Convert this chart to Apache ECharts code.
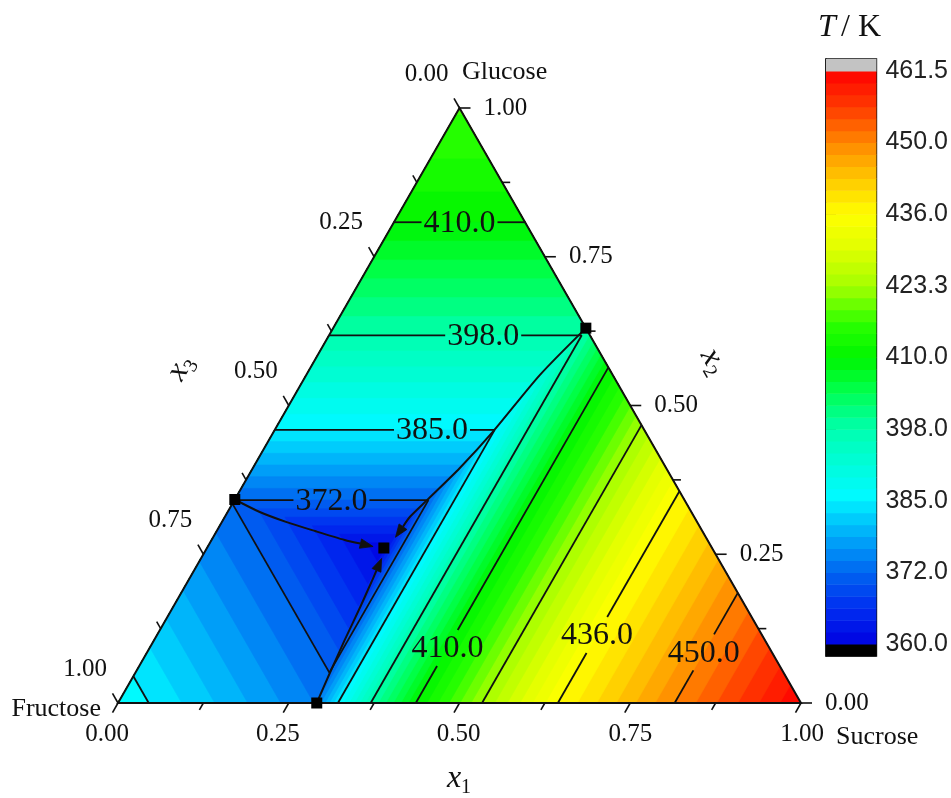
<!DOCTYPE html>
<html lang="en">
<head>
<meta charset="utf-8">
<title>Fructose – Glucose – Sucrose liquidus surface</title>
<script src="https://cdn.jsdelivr.net/npm/echarts@6.0.0/dist/echarts.min.js"></script>
<style>
  html, body { margin: 0; padding: 0; background: #ffffff; }
  #chart { width: 951px; height: 798px; }
</style>
</head>
<body>
<div id="chart"></div>
<script>
// ---------------------------------------------------------------------------
// Liquidus temperature T / K of each primary crystallisation field, given
// against the mole fraction of the sugar that crystallises in that field
// (x1 = sucrose, x2 = glucose, x3 = fructose).
// ---------------------------------------------------------------------------
const sucroseLiquidus = [
  [0.240, 353.0], [0.258, 360.8], [0.284, 372.0], [0.322, 385.0], [0.370, 398.0],
  [0.436, 410.0], [0.533, 423.3], [0.644, 436.0], [0.815, 450.0], [1.000, 461.5]
];
const glucoseLiquidus = [
  [0.220, 354.0], [0.2605, 360.8], [0.341, 372.0], [0.459, 385.0], [0.618, 398.0],
  [0.808, 410.0], [0.900, 414.0], [1.000, 417.0]
];
const fructoseLiquidus = [
  [0.420, 355.0], [0.4815, 360.8], [0.665, 372.0], [0.955, 385.0], [1.000, 386.7]
];

// Eutectic compositions [x1, x2]: three binary ones and the ternary one
const eutecticPoints = [[0.000, 0.342], [0.370, 0.630], [0.291, 0.000], [0.259, 0.2605]];

// Eutectic valleys [x1, x2], each running towards the ternary eutectic
const valleyGlucoseFructose = [
  [0.000, 0.342], [0.047, 0.321], [0.095, 0.304], [0.144, 0.289], [0.195, 0.274], [0.242, 0.263]
];
const valleyFructoseSucrose = [
  [0.291, 0.000], [0.285, 0.050], [0.279, 0.106], [0.274, 0.161], [0.269, 0.207], [0.2645, 0.243]
];
const valleyGlucoseSucrose = [
  [0.370, 0.630], [0.342, 0.551], [0.321, 0.456], [0.303, 0.395], [0.282, 0.341], [0.271, 0.313], [0.267, 0.2785]
];

// Colour scale tick values (K) and axis tick labels
const colorbarTicks = [360.0, 372.0, 385.0, 398.0, 410.0, 423.3, 436.0, 450.0, 461.5];
const axisTickValues = [0, 0.25, 0.5, 0.75, 1];
const axisTickLabels = ['0.00', '0.25', '0.50', '0.75', '1.00'];
const vertexNames = ['Fructose', 'Sucrose', 'Glucose'];

// ---------------------------------------------------------------------------
// Styling
// ---------------------------------------------------------------------------
const SERIF = "'Times New Roman', 'Liberation Serif', serif";
const SANS = "Arial, 'Liberation Sans', sans-serif";
const INK = '#111111';
const bandsPerTick = 6;
const paletteStops = [
  [360.0, [0, 0, 225]],   [366.0, [0, 45, 240]],   [372.0, [0, 100, 240]],
  [379.0, [0, 175, 250]], [386.0, [0, 250, 255]],  [398.0, [0, 255, 175]],
  [405.0, [0, 255, 70]],  [410.0, [0, 245, 0]],    [416.0, [40, 255, 0]],
  [423.3, [165, 255, 0]], [430.0, [225, 255, 0]],  [436.0, [255, 255, 0]],
  [443.0, [255, 200, 0]], [450.0, [255, 135, 0]],  [456.0, [255, 55, 0]],
  [461.5, [255, 0, 0]]
];
// Isotherm labels: which line carries a label and where along it (0..1)
const isothermLabels = [
  { level: 410.0, field: 'glucose', at: 0.50 },
  { level: 398.0, field: 'glucose', at: 0.61 },
  { level: 385.0, field: 'glucose', at: 0.715 },
  { level: 372.0, field: 'glucose', at: 0.50 },
  { level: 410.0, field: 'sucrose', at: 0.164 },
  { level: 436.0, field: 'sucrose', at: 0.321 },
  { level: 450.0, field: 'sucrose', at: 0.46 }
];
const bottomLabelShift = [-11, -11, -1, 0, 1];

// ---------------------------------------------------------------------------
// Helpers
// ---------------------------------------------------------------------------
const SQ3_2 = Math.sqrt(3) / 2;
// (x1, x2) composition -> plane coordinates of the equilateral triangle
function toXY(x1, x2) { return [x1 + x2 / 2, x2 * SQ3_2]; }

// Mole fraction at which a liquidus table reaches temperature T
function compositionAt(table, T) {
  const n = table.length;
  if (T >= table[n - 1][1]) return 2;
  for (let i = 1; i < n; i++) {
    if (T <= table[i][1]) {
      const [xa, ta] = table[i - 1], [xb, tb] = table[i];
      return xa + (T - ta) * (xb - xa) / (tb - ta);
    }
  }
  return 2;
}

// Sutherland–Hodgman: keep the part of poly where f(p) <= 0
function clipHalf(poly, f) {
  const out = [];
  for (let i = 0; i < poly.length; i++) {
    const p = poly[i], q = poly[(i + 1) % poly.length];
    const fp = f(p), fq = f(q);
    if (fp <= 0) out.push(p);
    if ((fp < 0 && fq > 0) || (fp > 0 && fq < 0)) {
      const t = fp / (fp - fq);
      out.push([p[0] + t * (q[0] - p[0]), p[1] + t * (q[1] - p[1])]);
    }
  }
  return out;
}

// Composition polygon where the liquidus lies below L
function belowRegion(L) {
  const a = compositionAt(sucroseLiquidus, L);
  const b = compositionAt(glucoseLiquidus, L);
  const c = compositionAt(fructoseLiquidus, L);
  let poly = [[0, 0], [1, 0], [0, 1]];
  poly = clipHalf(poly, p => p[0] - a);
  poly = clipHalf(poly, p => p[1] - b);
  poly = clipHalf(poly, p => (1 - p[0] - p[1]) - c);
  return poly;
}

// Isotherm pieces for level L inside each primary field
function isothermSegments(L) {
  const a = compositionAt(sucroseLiquidus, L);
  const b = compositionAt(glucoseLiquidus, L);
  const c = compositionAt(fructoseLiquidus, L);
  const segs = [];
  if (b < 1) {
    const lo = Math.max(0, 1 - b - c), hi = Math.min(a, 1 - b);
    if (hi > lo) segs.push({ field: 'glucose', p: [[lo, b], [hi, b]] });
  }
  if (a < 1) {
    const lo = Math.max(0, 1 - a - c), hi = Math.min(b, 1 - a);
    if (hi > lo) segs.push({ field: 'sucrose', p: [[a, lo], [a, hi]] });
  }
  if (c < 1) {
    const lo = Math.max(0, 1 - c - b), hi = Math.min(a, 1 - c);
    if (hi > lo) segs.push({ field: 'fructose', p: [[lo, 1 - c - lo], [hi, 1 - c - hi]] });
  }
  return segs;
}

function paletteAt(T) {
  const s = paletteStops;
  if (T <= s[0][0]) return s[0][1];
  for (let i = 1; i < s.length; i++) {
    if (T <= s[i][0]) {
      const f = (T - s[i - 1][0]) / (s[i][0] - s[i - 1][0]);
      return s[i - 1][1].map((v, k) => Math.round(v + f * (s[i][1][k] - v)));
    }
  }
  return s[s.length - 1][1];
}
const rgb = c => 'rgb(' + c.join(',') + ')';

// Band boundaries and colours
const bandLevels = [];
for (let i = 0; i < colorbarTicks.length - 1; i++) {
  for (let j = 0; j < bandsPerTick; j++) {
    bandLevels.push(colorbarTicks[i] + (colorbarTicks[i + 1] - colorbarTicks[i]) * j / bandsPerTick);
  }
}
bandLevels.push(colorbarTicks[colorbarTicks.length - 1]);
const bandCount = bandLevels.length - 1;
const bandColors = [];
for (let k = 0; k < bandCount; k++) bandColors.push(rgb(paletteAt((bandLevels[k] + bandLevels[k + 1]) / 2)));

// Filled layers, painted from the hottest band downwards
const fillLayers = [{ poly: [[0, 0], [1, 0], [0, 1]], color: bandColors[bandCount - 1] }];
for (let k = bandCount - 1; k >= 1; k--) {
  fillLayers.push({ poly: belowRegion(bandLevels[k]), color: bandColors[k - 1] });
}
const isothermLevels = colorbarTicks.slice(1, -1);

function lerp(p, q, t) { return [p[0] + t * (q[0] - p[0]), p[1] + t * (q[1] - p[1])]; }
function seg(p, q, w) {
  return { type: 'line', shape: { x1: p[0], y1: p[1], x2: q[0], y2: q[1] }, style: { stroke: INK, lineWidth: w || 1.8 } };
}
// Part of segment p0-p1 hidden by a label box centred at c
function boxCut(p0, p1, c, hw, hh) {
  const dx = p1[0] - p0[0], dy = p1[1] - p0[1];
  let t0 = 0, t1 = 1;
  const P = [-dx, dx, -dy, dy];
  const Q = [p0[0] - (c[0] - hw), (c[0] + hw) - p0[0], p0[1] - (c[1] - hh), (c[1] + hh) - p0[1]];
  for (let i = 0; i < 4; i++) {
    if (Math.abs(P[i]) < 1e-9) { if (Q[i] < 0) return [1, 1]; continue; }
    const r = Q[i] / P[i];
    if (P[i] < 0) t0 = Math.max(t0, r); else t1 = Math.min(t1, r);
  }
  return t0 <= t1 ? [t0, t1] : [1, 1];
}

// ---------------------------------------------------------------------------
// Render functions
// ---------------------------------------------------------------------------
function renderFill(params, api) {
  const layer = fillLayers[params.dataIndex];
  if (!layer || layer.poly.length < 3) return { type: 'group', children: [] };
  const pts = layer.poly.map(p => api.coord(toXY(p[0], p[1])));
  return { type: 'polygon', shape: { points: pts }, style: { fill: layer.color, stroke: layer.color, lineWidth: 0.6 } };
}

function renderIsotherms(params, api) {
  const children = [];
  isothermLevels.forEach(L => {
    isothermSegments(L).forEach(s => {
      const p0 = api.coord(toXY(s.p[0][0], s.p[0][1]));
      const p1 = api.coord(toXY(s.p[1][0], s.p[1][1]));
      const lab = isothermLabels.find(l => l.level === L && l.field === s.field);
      if (!lab) { children.push(seg(p0, p1)); return; }
      const c = lerp(p0, p1, lab.at);
      const cut = boxCut(p0, p1, c, 38, 18);
      if (cut[0] > 0) children.push(seg(p0, lerp(p0, p1, cut[0])));
      if (cut[1] < 1) children.push(seg(lerp(p0, p1, cut[1]), p1));
      children.push({
        type: 'text', x: c[0], y: c[1] + 1,
        style: { text: L.toFixed(1), fontSize: 32, fontFamily: SERIF, fill: INK, align: 'center', verticalAlign: 'middle' }
      });
    });
  });
  return { type: 'group', children };
}

function renderValleys(params, api) {
  const children = [];
  [valleyGlucoseFructose, valleyFructoseSucrose, valleyGlucoseSucrose].forEach(v => {
    const pts = v.map(p => api.coord(toXY(p[0], p[1])));
    const tip = pts[pts.length - 1], prev = pts[pts.length - 2];
    const dx = tip[0] - prev[0], dy = tip[1] - prev[1], l = Math.hypot(dx, dy);
    const u = [dx / l, dy / l], n = [-u[1], u[0]];
    const base = [tip[0] - u[0] * 13, tip[1] - u[1] * 13];
    const linePts = pts.slice(0, -1).concat([base]);
    children.push({ type: 'polyline', shape: { points: linePts, smooth: 0.25 }, style: { stroke: INK, lineWidth: 2, fill: null } });
    children.push({
      type: 'polygon',
      shape: { points: [tip, [base[0] + n[0] * 4.8, base[1] + n[1] * 4.8], [base[0] - n[0] * 4.8, base[1] - n[1] * 4.8]] },
      style: { fill: INK, stroke: INK, lineWidth: 0.8 }
    });
  });
  return { type: 'group', children };
}

function renderFrame(params, api) {
  const F = api.coord(toXY(0, 0)), S = api.coord(toXY(1, 0)), G = api.coord(toXY(0, 1));
  const unit = (a, b) => { const dx = b[0] - a[0], dy = b[1] - a[1], l = Math.hypot(dx, dy); return [dx / l, dy / l]; };
  const dBottom = unit(G, F), dRight = unit(F, S), dLeft = unit(S, G);
  const children = [{ type: 'polygon', shape: { points: [F, S, G] }, style: { fill: null, stroke: INK, lineWidth: 2 } }];
  const tickStyle = (p, d, len) => seg(p, [p[0] + d[0] * len, p[1] + d[1] * len], 1.6);
  const label = (x, y, text, align) => ({
    type: 'text', x, y,
    style: { text, fontSize: 25, fontFamily: SERIF, fill: INK, align, verticalAlign: 'middle' }
  });
  for (let k = 0; k <= 8; k++) {
    const v = k / 8, major = k % 2 === 0, len = major ? 11 : 8;
    const pb = lerp(F, S, v), pr = lerp(S, G, v), pl = lerp(G, F, v);
    children.push(tickStyle(pb, dBottom, len));
    children.push(tickStyle(pr, dRight, len));
    children.push(tickStyle(pl, dLeft, len));
  }
  axisTickValues.forEach((v, i) => {
    const pb = lerp(F, S, v), pr = lerp(S, G, v), pl = lerp(G, F, v);
    children.push(label(pb[0] + bottomLabelShift[i], pb[1] + 31, axisTickLabels[i], 'center'));
    children.push(label(pr[0] + 24, pr[1], axisTickLabels[i], 'left'));
    children.push(label(pl[0] - 33, pl[1] - 34, axisTickLabels[i], 'center'));
  });
  return { type: 'group', children };
}

// Colour bar: one rectangle per band, plus under/over cells
const colorbarCells = [{ lo: -1, hi: 0, color: '#000000' }];
bandColors.forEach((c, k) => colorbarCells.push({ lo: k, hi: k + 1, color: c }));
colorbarCells.push({ lo: bandCount, hi: bandCount + 1, color: '#c3c3c3' });
function renderColorbar(params, api) {
  const cell = colorbarCells[params.dataIndex];
  const p0 = api.coord([0, cell.lo]), p1 = api.coord([1, cell.hi]);
  return {
    type: 'rect',
    shape: { x: p0[0], y: p1[1], width: p1[0] - p0[0], height: p0[1] - p1[1] + 0.5 },
    style: { fill: cell.color }
  };
}
const colorbarTickIdx = colorbarTicks.map((_, i) => i * bandsPerTick);

// ---------------------------------------------------------------------------
// Chart
// ---------------------------------------------------------------------------
const chart = echarts.init(document.getElementById('chart'), null, { renderer: 'canvas' });

function subscripted(x, y, rot, sub) {
  return {
    type: 'group', x, y, rotation: rot,
    children: [
      { type: 'text', x: 0, y: 0, style: { text: 'x', fontSize: 32, fontStyle: 'italic', fontFamily: SERIF, fill: INK, align: 'center', verticalAlign: 'middle' } },
      { type: 'text', x: 12, y: 9, style: { text: sub, fontSize: 20, fontFamily: SERIF, fill: INK, align: 'center', verticalAlign: 'middle' } }
    ]
  };
}

chart.setOption({
  animation: false,
  backgroundColor: '#ffffff',
  grid: [
    { left: 118, top: 108, width: 683, height: 595, show: false },
    { left: 826, top: 59, width: 51, height: 597, show: true, borderColor: INK, borderWidth: 1.5, backgroundColor: 'transparent' }
  ],
  xAxis: [
    { gridIndex: 0, type: 'value', min: 0, max: 1, show: false },
    { gridIndex: 1, type: 'value', min: 0, max: 1, show: false }
  ],
  yAxis: [
    { gridIndex: 0, type: 'value', min: 0, max: SQ3_2, show: false },
    {
      gridIndex: 1, type: 'value', position: 'right', min: -1, max: bandCount + 1,
      axisLine: { show: true, lineStyle: { color: INK, width: 1.5 } },
      axisTick: { show: true, customValues: colorbarTickIdx, length: 10, inside: false, lineStyle: { color: INK, width: 1.6 } },
      axisLabel: {
        customValues: colorbarTickIdx, margin: 9, fontSize: 25, fontFamily: SANS, color: '#222',
        formatter: v => colorbarTicks[Math.round(v / bandsPerTick)].toFixed(1)
      },
      splitLine: { show: false }
    }
  ],
  series: [
    { type: 'custom', name: 'liquidus', coordinateSystem: 'cartesian2d', xAxisIndex: 0, yAxisIndex: 0,
      data: fillLayers.map(() => [0.5, 0.3]), renderItem: renderFill, silent: true, z: 1 },
    { type: 'custom', name: 'isotherms', coordinateSystem: 'cartesian2d', xAxisIndex: 0, yAxisIndex: 0,
      data: [[0.5, 0.3]], renderItem: renderIsotherms, silent: true, z: 2 },
    { type: 'custom', name: 'valleys', coordinateSystem: 'cartesian2d', xAxisIndex: 0, yAxisIndex: 0,
      data: [[0.5, 0.3]], renderItem: renderValleys, silent: true, z: 3 },
    { type: 'custom', name: 'frame', coordinateSystem: 'cartesian2d', xAxisIndex: 0, yAxisIndex: 0,
      data: [[0.5, 0.3]], renderItem: renderFrame, silent: true, z: 4 },
    { type: 'scatter', name: 'eutectics', xAxisIndex: 0, yAxisIndex: 0,
      data: eutecticPoints.map(p => toXY(p[0], p[1])),
      symbol: 'rect', symbolSize: 11, itemStyle: { color: '#000000', opacity: 1 }, silent: true, z: 5 },
    { type: 'custom', name: 'colour scale', coordinateSystem: 'cartesian2d', xAxisIndex: 1, yAxisIndex: 1,
      data: colorbarCells.map(c => [0.5, (c.lo + c.hi) / 2]), renderItem: renderColorbar, silent: true, z: 1 }
  ],
  graphic: [
    { type: 'text', x: 462, y: 72, style: { text: vertexNames[2], fontSize: 26, fontFamily: SERIF, fill: INK, align: 'left', verticalAlign: 'middle' } },
    { type: 'text', x: 101, y: 709, style: { text: vertexNames[0], fontSize: 26, fontFamily: SERIF, fill: INK, align: 'right', verticalAlign: 'middle' } },
    { type: 'text', x: 836, y: 737, style: { text: vertexNames[1], fontSize: 26, fontFamily: SERIF, fill: INK, align: 'left', verticalAlign: 'middle' } },
    { type: 'text', x: 818, y: 28, style: { text: 'T', fontSize: 32, fontStyle: 'italic', fontFamily: SERIF, fill: INK, align: 'left', verticalAlign: 'middle' } },
    { type: 'text', x: 841, y: 28, style: { text: '/ K', fontSize: 32, fontFamily: SERIF, fill: INK, align: 'left', verticalAlign: 'middle' } },
    subscripted(454, 779, 0, '1'),
    subscripted(711, 357, -Math.PI / 3, '2'),
    subscripted(178, 372, Math.PI / 3, '3')
  ]
});
</script>
</body>
</html>
